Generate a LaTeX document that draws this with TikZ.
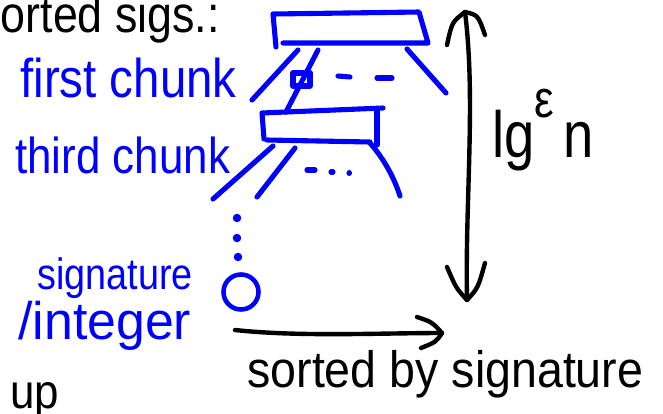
\documentclass[tikz,border=0pt]{standalone}
\usepackage{fontspec}
\setmainfont{Liberation Sans}
\definecolor{pen}{RGB}{0,0,255}
\newcommand{\hwtext}[3]{\scalebox{#1}[#2]{#3}}
\begin{document}
\begin{tikzpicture}[x=0.02cm,y=-0.02cm,
  bluestroke/.style={draw=pen, line width=2.9pt, line cap=round, line join=round},
  blackstroke/.style={draw=black, line width=2.5pt, line cap=round, line join=round},
  bluetext/.style={text=pen, inner sep=0pt, anchor=base west},
  blacktext/.style={text=black, inner sep=0pt, anchor=base west},
  bluedot/.style={fill=pen, circle, inner sep=0pt, minimum size=0.17cm}]
\useasboundingbox (0,0) rectangle (663,413);
\clip (0,0) rectangle (663,413);

% texts
\node[blacktext, font=\fontsize{25.5}{30}\selectfont] (title) at (-22,32) {\hwtext{1}{1.15}{sorted sigs.:}};
\node[bluetext, font=\fontsize{27}{30}\selectfont] (first) at (20,97) {\hwtext{1}{1.15}{first chunk}};
\node[bluetext, font=\fontsize{25}{30}\selectfont] (third) at (15,173) {\hwtext{1}{1.15}{third chunk}};
\node[bluetext, font=\fontsize{25}{30}\selectfont] (sig) at (37,289) {\hwtext{0.86}{1}{signature}};
\node[bluetext, font=\fontsize{29.5}{30}\selectfont] (int) at (18,339) {\hwtext{1}{1.02}{/integer}};
\node[blacktext, font=\fontsize{26.5}{30}\selectfont] (sorted) at (247,387) {\hwtext{1}{1.1}{sorted by signature}};
\node[blacktext, font=\fontsize{25}{30}\selectfont] (up) at (10,408) {\hwtext{1}{1.1}{up}};
\node[blacktext, font=\fontsize{31}{34}\selectfont] (lg) at (492,157) {\hwtext{1}{1.2}{lg\raisebox{0.6em}{\fontsize{25}{25}\selectfont ε}\,n}};

% top chunk box
\draw[bluestroke] (276,47) -- (273,14) -- (419,12) -- (428,43) -- (283,43);
\draw[bluestroke] (298,50) -- (252,100);
\draw[bluestroke] (318,50) -- (286,112);
\draw[bluestroke] (293,73) rectangle (310,86);
\draw[bluestroke] (338,76) -- (350,77);
\draw[bluestroke] (377,78) -- (392,78);
\draw[bluestroke] (407,49) -- (446,93);

% second chunk box
\draw[bluestroke] (264,139) -- (262,113) -- (383,108);
\draw[bluestroke] (377,110) -- (377,145);
\draw[bluestroke] (267,140) -- (370,142);
\draw[bluestroke] (273,146) -- (213,199);
\draw[bluestroke] (295,148) -- (257,197);
\draw[bluestroke] (370,143) .. controls (385,160) and (395,180) .. (400,196);
\draw[bluestroke] (307,170) -- (315,170);
\draw[bluestroke] (331,172) -- (333,172);
\draw[bluestroke] (349,173) -- (349.5,173);

% vertical dots and leaf
\node[bluedot] (d1) at (237,218) {};
\node[bluedot] (d2) at (237,238) {};
\node[bluedot] (d3) at (238,257) {};
\node[draw=pen, circle, line width=2.6pt, minimum size=0.7cm, inner sep=0pt] (leaf) at (241,292) {};

% horizontal arrow
\coordinate (hs) at (235,330);
\coordinate (he) at (442,333);
\draw[blackstroke] (hs) .. controls (300,337) and (380,333) .. (he);
\draw[blackstroke] (417,317) .. controls (432,322) .. (he) .. controls (436,342) .. (421,348);

% vertical double arrow
\coordinate (vt) at (465,12);
\coordinate (vb) at (467,300);
\draw[blackstroke] (vt) .. controls (476,100) and (465,200) .. (vb);
\draw[blackstroke] (447,45) .. controls (452,22) .. (vt) .. controls (478,15) .. (485,35);
\draw[blackstroke] (447,267) .. controls (456,288) .. (vb) .. controls (478,288) .. (485,263);
\end{tikzpicture}
\end{document}
